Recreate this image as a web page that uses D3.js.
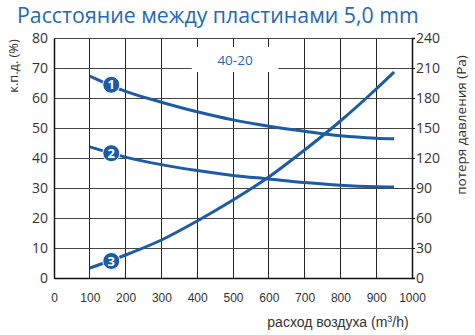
<!DOCTYPE html>
<html><head><meta charset="utf-8">
<script src="https://cdn.jsdelivr.net/npm/d3@7"></script>
<style>
body{margin:0;background:#fff;}
svg{display:block;}
</style></head>
<body><svg id="c" width="475" height="335"></svg>
<script>
const flow = [100,200,300,400,500,600,700,800,900,950];
const eff1 = [67.3,62.2,58.6,55.4,52.7,50.6,48.9,47.4,46.6,46.4];
const eff2 = [43.7,40.3,37.8,35.8,34.2,33.0,31.8,30.9,30.4,30.3];
const press3 = [10,23,38,57,78,101,128,157,189,206];
const xTicks = [0,100,200,300,400,500,600,700,800,900,1000];
const leftTicks = [0,10,20,30,40,50,60,70,80];
const rightTicks = [0,30,60,90,120,150,180,210,240];
const markerFlow = 160;
const markerVals = [64.4, 41.6, 17];
const markerLabels = ["1","2","3"];
const title = "Расстояние между пластинами 5,0 mm";
const modelLabel = "40-20";

const blue = "#1d5ba6";
const svg = d3.select("#c");
const x = d3.scaleLinear().domain([0,1000]).range([54,412]);
const yL = d3.scaleLinear().domain([0,80]).range([278,38]);
const yR = d3.scaleLinear().domain([0,240]).range([278,38]);

// title
svg.append("text").attr("x",17).attr("y",22.5)
  .attr("font-family","Open Sans").attr("font-size",21.3).attr("fill","#2469b3")
  .text(title);

// grid
const g = svg.append("g");
g.selectAll(".vg").data(xTicks).join("line")
  .attr("x1",d=>x(d)).attr("x2",d=>x(d)).attr("y1",yL(80)).attr("y2",yL(0))
  .attr("stroke","#222").attr("stroke-width",1).attr("shape-rendering","crispEdges");
g.selectAll(".hg").data(leftTicks).join("line")
  .attr("x1",x(0)).attr("x2",x(1000)).attr("y1",d=>yL(d)).attr("y2",d=>yL(d))
  .attr("stroke","#444").attr("stroke-width",1).attr("shape-rendering","crispEdges");

// axes
const fontCal = "Open Sans";
const ax1 = svg.append("g").attr("transform",`translate(${x(0)},0)`)
  .call(d3.axisLeft(yL).tickValues(leftTicks).tickSize(0).tickPadding(6));
ax1.select(".domain").attr("stroke","#111").attr("stroke-width",1.5);
ax1.selectAll("text").attr("font-family",fontCal).attr("font-size",14).attr("fill","#333");

const ax2 = svg.append("g").attr("transform",`translate(${x(1000)},0)`)
  .call(d3.axisRight(yR).tickValues(rightTicks).tickSize(3).tickPadding(1));
ax2.select(".domain").attr("stroke","#111").attr("stroke-width",1.5);
ax2.selectAll("line").attr("stroke","#111");
ax2.selectAll("text").attr("font-family",fontCal).attr("font-size",14).attr("fill","#333");

const ax3 = svg.append("g").attr("transform",`translate(0,${yL(0)})`)
  .call(d3.axisBottom(x).tickValues(xTicks).tickFormat(d3.format("d")).tickSize(0).tickPadding(15));
ax3.select(".domain").attr("stroke","#111").attr("stroke-width",1.5);
ax3.selectAll("text").attr("font-family","Liberation Sans").attr("font-size",12).attr("fill","#333");

// axis titles
svg.append("text").attr("transform","translate(18,66) rotate(-90)")
  .attr("text-anchor","middle").attr("font-family",fontCal).attr("font-size",12.8).attr("fill","#333")
  .text("к.п.д. (%)");
svg.append("text").attr("transform","translate(466,125) rotate(-90)")
  .attr("text-anchor","middle").attr("font-family",fontCal).attr("font-size",13.5).attr("fill","#333")
  .text("потеря давления (Pa)");
const xt = svg.append("text").attr("x",338).attr("y",327)
  .attr("text-anchor","middle").attr("font-family","Liberation Sans").attr("font-size",14).attr("fill","#333");
xt.append("tspan").text("расход воздуха (m");
xt.append("tspan").attr("font-size",9).attr("dy",-5).text("3");
xt.append("tspan").attr("dy",5).text("/h)");

// model label box
svg.append("rect").attr("x",191).attr("y",47).attr("width",88).attr("height",25).attr("rx",6)
  .attr("fill","#fff");
svg.append("text").attr("x",235).attr("y",65).attr("text-anchor","middle")
  .attr("font-family",fontCal).attr("font-size",13.5).attr("fill","#2469b3").text(modelLabel);

// curves
const line1 = d3.line().x((d,i)=>x(flow[i])).y(d=>yL(d)).curve(d3.curveMonotoneX);
const line3 = d3.line().x((d,i)=>x(flow[i])).y(d=>yR(d)).curve(d3.curveMonotoneX);
[eff1,eff2].forEach(s=>{
  svg.append("path").attr("d",line1(s)).attr("fill","none").attr("stroke",blue).attr("stroke-width",3);
});
svg.append("path").attr("d",line3(press3)).attr("fill","none").attr("stroke",blue).attr("stroke-width",3);

// markers
const mY = [yL(markerVals[0]), yL(markerVals[1]), yR(markerVals[2])];
markerLabels.forEach((lab,i)=>{
  svg.append("circle").attr("cx",x(markerFlow)).attr("cy",mY[i]).attr("r",8.5)
    .attr("fill",blue).attr("stroke","#fff").attr("stroke-width",1);
  svg.append("text").attr("x",x(markerFlow)).attr("y",mY[i]).attr("dy","0.36em")
    .attr("text-anchor","middle").attr("font-family","Open Sans").attr("font-weight","bold")
    .attr("font-size",13).attr("fill","#fff").text(lab);
});
</script></body></html>
